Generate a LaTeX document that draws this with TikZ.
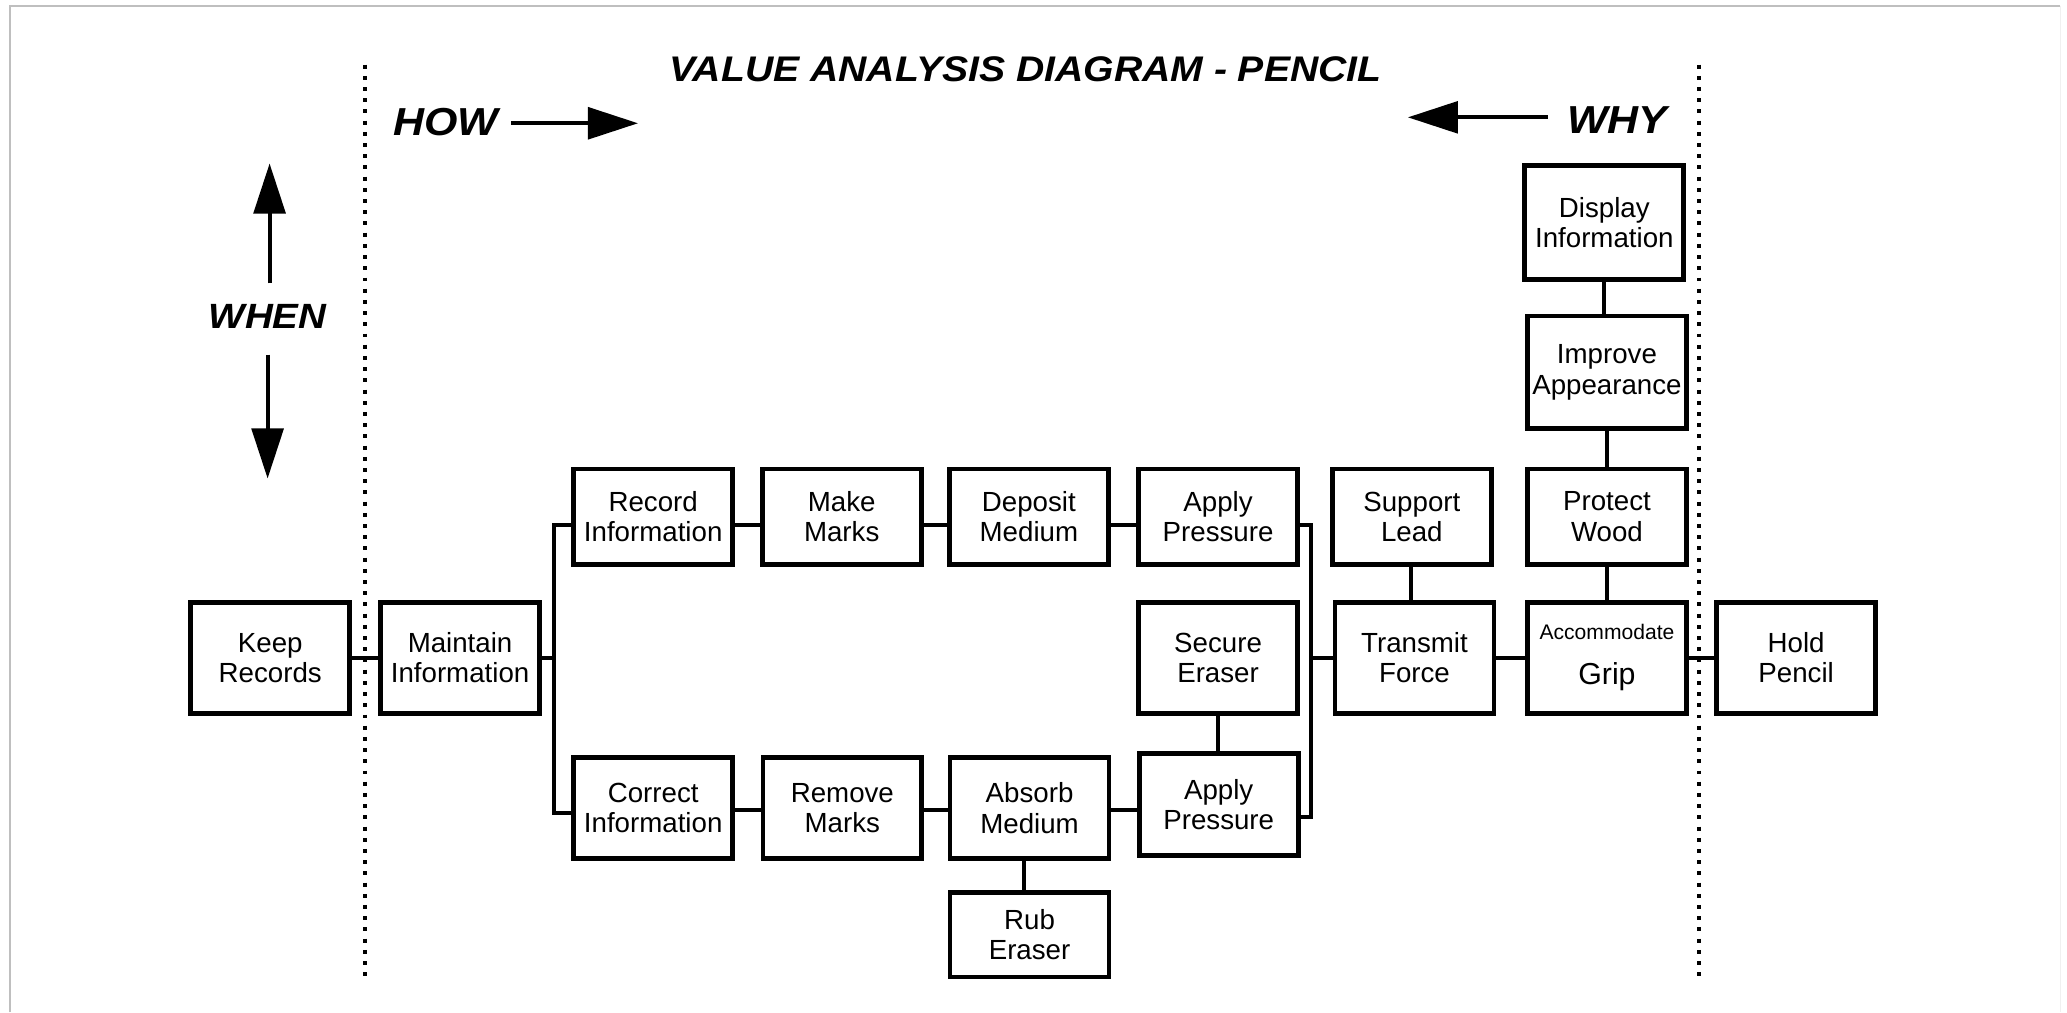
\documentclass[tikz,border=0pt]{standalone}
\usepackage{fontspec}
\setmainfont{Liberation Sans}
\newfontfamily\titlefont[FakeStretch=1.1]{Liberation Sans}
\usetikzlibrary{arrows.meta}
\begin{document}
\begin{tikzpicture}[x=0.5pt,y=-0.5pt,
  box/.style={draw, line width=1.8pt, inner sep=0pt, align=center, minimum width=60.3pt,
    font=\fontsize{10.5}{11.5}\selectfont},
  midrow/.style={minimum height=42.2pt},
  toprow/.style={minimum height=36.2pt},
  botrow/.style={minimum height=38.2pt},
  conn/.style={line width=1.5pt},
  dotline/.style={line width=1.5pt, dash pattern=on 1.5pt off 2.75pt},
  bigarrow/.style={line width=1.5pt, -{Triangle[length=19pt,width=12pt]}},
  lbl/.style={font=\titlefont\bfseries\itshape\fontsize{14.8}{16}\selectfont},
]
% canvas
\useasboundingbox (0,0) rectangle (1568,768);
\fill[white] (0,0) rectangle (1568,768);
\draw[black!25, line width=0.6pt] (7.6,768) -- (7.6,4.5) -- (1563,4.5);
\draw[black!6, line width=0.6pt] (1563,4.5) -- (1563,768);

% dotted separators
\coordinate (dlT) at (277,49);
\coordinate (dlB) at (277,741);
\coordinate (drT) at (1288.5,49);
\coordinate (drB) at (1288.5,741);
\draw[dotline] (dlT) -- (dlB);
\draw[dotline] (drT) -- (drB);

% headings
\node[lbl, anchor=base, font=\titlefont\bfseries\itshape\fontsize{13.5}{15}\selectfont] (title) at (778,62) {VALUE ANALYSIS DIAGRAM - PENCIL};
\node[lbl, anchor=base] (how) at (338,102.5) {HOW};
\node[lbl, anchor=base] (why) at (1227,101) {WHY};
\node[lbl, anchor=base, font=\titlefont\bfseries\itshape\fontsize{13.3}{15}\selectfont] (when) at (203,249) {WHEN};

\coordinate (howS) at (388,93.5);
\coordinate (howE) at (484,93.5);
\coordinate (whyS) at (1174,89);
\coordinate (whyE) at (1068,89);
\coordinate (upS) at (204.5,215);
\coordinate (upE) at (204.5,124);
\coordinate (dnS) at (203,269);
\coordinate (dnE) at (203,363);
\draw[bigarrow] (howS) -- (howE);
\draw[bigarrow] (whyS) -- (whyE);
\draw[bigarrow] (upS) -- (upE);
\draw[bigarrow] (dnS) -- (dnE);

% boxes: middle row
\node[box, midrow] (keep)  at (205,499)  {Keep\\Records};
\node[box, midrow] (maint) at (349,499)  {Maintain\\Information};
\node[box, midrow] (sec)   at (924,499)  {Secure\\Eraser};
\node[box, midrow] (trans) at (1073,499) {Transmit\\Force};
\node[box, midrow] (acc)   at (1219,499) {{\fontsize{8}{9}\selectfont Accommodate}\\[5.5pt]{\fontsize{11.5}{12}\selectfont Grip}};
\node[box, midrow] (hold)  at (1362.5,499) {Hold\\Pencil};

% top row
\node[box, toprow] (rec)   at (495.5,392) {Record\\Information};
\node[box, toprow] (make)  at (638.5,392) {Make\\Marks};
\node[box, toprow] (dep)   at (780.5,392) {Deposit\\Medium};
\node[box, toprow] (applyT) at (924,392) {Apply\\Pressure};
\node[box, toprow] (sup)   at (1071,392) {Support\\Lead};
\node[box, toprow] (prot)  at (1219,392) {Protect\\Wood};

% right column
\node[box, minimum height=43.2pt] (disp) at (1217,169) {Display\\Information};
\node[box, minimum height=42.8pt] (impr) at (1219,282.5) {Improve\\Appearance};

% bottom row
\node[box, botrow] (cor)    at (495.5,613) {Correct\\Information};
\node[box, botrow] (rem)    at (639,613)   {Remove\\Marks};
\node[box, botrow] (absorb) at (781,613)   {Absorb\\Medium};
\node[box, minimum height=38.7pt] (applyB) at (924.5,610.5) {Apply\\Pressure};
\node[box, minimum height=32.2pt] (rub) at (781,709) {Rub\\Eraser};

% connectors
\coordinate (busL) at (420.5,499);
\coordinate (busR) at (994.6,499);
\draw[conn] (keep.east) -- (maint.west);
\draw[conn] (maint.east) -- (busL);
\draw[conn] ([yshift=-3pt]rec.west) -| (busL) |- ([yshift=-2pt]cor.west);
\draw[conn] ([yshift=-3pt]rec.east) -- ([yshift=-3pt]make.west);
\draw[conn] ([yshift=-3pt]make.east) -- ([yshift=-3pt]dep.west);
\draw[conn] ([yshift=-3pt]dep.east) -- ([yshift=-3pt]applyT.west);
\draw[conn] ([yshift=-0.75pt]cor.east) -- ([yshift=-0.75pt]rem.west);
\draw[conn] ([yshift=-0.75pt]rem.east) -- ([yshift=-0.75pt]absorb.west);
\draw[conn] ([yshift=-0.75pt]absorb.east) -- ([yshift=-0.75pt]absorb.east -| applyB.west);
\draw[conn] ([yshift=-3pt]applyT.east) -| (busR) |- ([yshift=-4.75pt]applyB.east);
\draw[conn] (busR) -- (trans.west);
\draw[conn] (sec.south) -- (sec.south |- applyB.north);
\draw[conn] ([xshift=-2pt]absorb.south) -- ([xshift=-2pt]absorb.south |- rub.north);
\draw[conn] ([xshift=-0.5pt]sup.south) -- ([xshift=-0.5pt]sup.south |- trans.north);
\draw[conn] (trans.east) -- (acc.west);
\draw[conn] (acc.east) -- (hold.west);
\draw[conn] (disp.south) -- (disp.south |- impr.north);
\draw[conn] (impr.south) -- (impr.south |- prot.north);
\draw[conn] (prot.south) -- (prot.south |- acc.north);
\end{tikzpicture}
\end{document}
